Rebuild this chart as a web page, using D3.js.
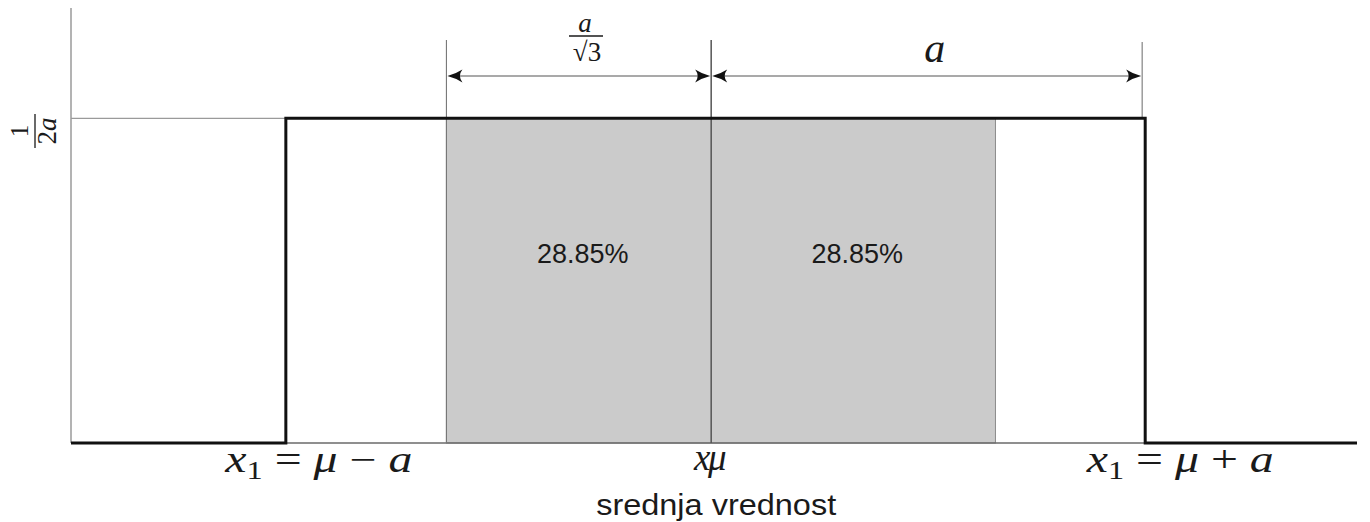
<!DOCTYPE html>
<html>
<head>
<meta charset="utf-8">
<script src="https://cdn.jsdelivr.net/npm/d3@7"></script>
<style>
  html, body { margin: 0; padding: 0; background: #fff; }
  svg { display: block; }
</style>
</head>
<body>
<svg id="chart" width="1370" height="522"></svg>
<script>
// Uniform distribution on [mu - a, mu + a], positions measured in units of a.
const xDomain = [-1.475, 1.488];          // horizontal axis extent
const yDomain = [0, 0.67];                // vertical axis extent (density)
const supportBounds = [-0.98, 1.0];       // mu - a, mu + a
const densityLevel = 0.5;                 // 1 / (2a) with a = 1
const meanValue = 0;                      // mu
const shadedBounds = [-0.61, 0.655];      // mu +/- a / sqrt(3)
const shadedPercents = [28.85, 28.85];    // probability of each shaded half
const dimensionMarks = [-0.61, 0, 0.993]; // dimension line anchor points
const dimensionLabels = ["a/√3", "a"];

const svg = d3.select("#chart");
const x = d3.scaleLinear().domain(xDomain).range([71, 1357]);
const y = d3.scaleLinear().domain(yDomain).range([443, 8]);

const mathFont = "'Liberation Serif', 'DejaVu Serif', serif";
const sansFont = "'Liberation Sans', Arial, sans-serif";
const ink = "#1a1a1a";

// Shaded region within one standard deviation
svg.append("rect")
  .attr("x", x(shadedBounds[0]))
  .attr("y", y(densityLevel))
  .attr("width", x(shadedBounds[1]) - x(shadedBounds[0]))
  .attr("height", y(0) - y(densityLevel))
  .attr("fill", "#cbcbcb")
  .attr("stroke", "#8a8a8a")
  .attr("stroke-width", 1);

// Vertical axis
svg.append("line")
  .attr("x1", x(xDomain[0])).attr("x2", x(xDomain[0]))
  .attr("y1", y(yDomain[1])).attr("y2", y(0))
  .attr("stroke", "#9a9a9a").attr("stroke-width", 1.5);

// Reference line for the density level
svg.append("line")
  .attr("x1", x(xDomain[0])).attr("x2", x(supportBounds[0]))
  .attr("y1", y(densityLevel)).attr("y2", y(densityLevel))
  .attr("stroke", "#9a9a9a").attr("stroke-width", 1.2);

// Horizontal axis (thin part under the support)
svg.append("line")
  .attr("x1", x(supportBounds[0])).attr("x2", x(supportBounds[1]))
  .attr("y1", y(0)).attr("y2", y(0))
  .attr("stroke", "#6a6a6a").attr("stroke-width", 1.5);

// Vertical guide lines for the dimension arrows
const guideTops = [40, 40, 42];
dimensionMarks.forEach((m, i) => {
  svg.append("line")
    .attr("x1", x(m)).attr("x2", x(m))
    .attr("y1", guideTops[i])
    .attr("y2", i === 2 ? y(densityLevel) : y(0))
    .attr("stroke", i === 1 ? "#555" : "#777")
    .attr("stroke-width", i === 1 ? 1.5 : 1.1);
});

// Density function as a step line
const stepPts = [
  [xDomain[0], 0], [supportBounds[0], 0], [supportBounds[0], densityLevel],
  [supportBounds[1], densityLevel], [supportBounds[1], 0], [xDomain[1], 0]
];
svg.append("path")
  .attr("d", d3.line().x(d => x(d[0])).y(d => y(d[1]))(stepPts))
  .attr("fill", "none")
  .attr("stroke", "#111")
  .attr("stroke-width", 3)
  .attr("stroke-linejoin", "miter");

// Dimension arrows
const arrowY = 76;
function arrowHead(px, dir) {
  // stealth-like head pointing in direction dir (+1 right, -1 left)
  const L = 15, W = 6.5, N = 10;
  const p = d3.path();
  p.moveTo(px, arrowY);
  p.quadraticCurveTo(px - dir * 8, arrowY - 2, px - dir * L, arrowY - W);
  p.quadraticCurveTo(px - dir * N, arrowY, px - dir * L, arrowY + W);
  p.quadraticCurveTo(px - dir * 8, arrowY + 2, px, arrowY);
  p.closePath();
  svg.append("path").attr("d", p.toString()).attr("fill", "#111");
}
for (let i = 0; i < 2; i++) {
  const xa = x(dimensionMarks[i]) + 1, xb = x(dimensionMarks[i + 1]) - 1;
  svg.append("line")
    .attr("x1", xa + 8).attr("x2", xb - 8)
    .attr("y1", arrowY).attr("y2", arrowY)
    .attr("stroke", "#555").attr("stroke-width", 1.2);
  arrowHead(xa, -1);
  arrowHead(xb, 1);
}

// Label a / sqrt(3)
const fracX = 586;
svg.append("text")
  .attr("x", fracX - 1).attr("y", 32)
  .attr("text-anchor", "middle")
  .attr("font-family", mathFont).attr("font-style", "italic")
  .attr("font-size", 27).attr("fill", ink)
  .text(dimensionLabels[0].split("/")[0]);
svg.append("line")
  .attr("x1", fracX - 17).attr("x2", fracX + 17)
  .attr("y1", 36).attr("y2", 36)
  .attr("stroke", ink).attr("stroke-width", 1.3);
svg.append("text")
  .attr("x", fracX + 1).attr("y", 61)
  .attr("text-anchor", "middle")
  .attr("font-family", mathFont)
  .attr("font-size", 27).attr("fill", ink)
  .text(dimensionLabels[0].split("/")[1]);

// Label a
svg.append("text")
  .attr("x", (x(dimensionMarks[1]) + x(dimensionMarks[2])) / 2 + 8).attr("y", 62)
  .attr("text-anchor", "middle")
  .attr("font-family", mathFont).attr("font-style", "italic")
  .attr("font-size", 42).attr("fill", ink)
  .text(dimensionLabels[1]);

// Density level label 1/(2a), rotated
const yl = svg.append("g").attr("transform", "translate(39,131) rotate(-90)");
yl.append("text")
  .attr("x", 0).attr("y", -11)
  .attr("text-anchor", "middle")
  .attr("font-family", mathFont).attr("font-size", 25).attr("fill", ink)
  .text("1");
yl.append("line")
  .attr("x1", -17).attr("x2", 17).attr("y1", -4).attr("y2", -4)
  .attr("stroke", ink).attr("stroke-width", 1.3);
const den = yl.append("text")
  .attr("x", 0).attr("y", 17)
  .attr("text-anchor", "middle")
  .attr("font-family", mathFont).attr("font-size", 27).attr("fill", ink);
den.append("tspan").text("2");
den.append("tspan").attr("font-style", "italic").text("a");

// Percent labels in each shaded half
const halfCenters = [
  (x(shadedBounds[0]) + x(meanValue)) / 2,
  (x(meanValue) + x(shadedBounds[1])) / 2
];
shadedPercents.forEach((p, i) => {
  svg.append("text")
    .attr("x", halfCenters[i] + 4).attr("y", 263)
    .attr("text-anchor", "middle")
    .attr("font-family", sansFont).attr("font-size", 27).attr("fill", ink)
    .text(p.toFixed(2) + "%");
});

// Bound labels under the axis
function boundLabel(cx, sign) {
  const t = svg.append("text")
    .attr("x", cx).attr("y", 472)
    .attr("text-anchor", "middle")
    .attr("font-family", mathFont).attr("font-size", 37).attr("fill", ink)
    .attr("textLength", 187).attr("lengthAdjust", "spacingAndGlyphs");
  t.append("tspan").attr("font-style", "italic").text("x");
  t.append("tspan").attr("font-size", 25).attr("dy", 7).text("1");
  t.append("tspan").attr("dy", -7).text(" = ");
  t.append("tspan").attr("font-style", "italic").text("μ");
  t.append("tspan").text(" " + sign + " ");
  t.append("tspan").attr("font-style", "italic").text("a");
}
boundLabel(x(supportBounds[0]) + 33, "−");
boundLabel(x(supportBounds[1]) + 35, "+");

// Overlapping mean labels
svg.append("text")
  .attr("x", x(meanValue) - 9).attr("y", 470)
  .attr("text-anchor", "middle")
  .attr("font-family", mathFont).attr("font-style", "italic")
  .attr("font-size", 37).attr("fill", ink)
  .text("x");
svg.append("text")
  .attr("x", x(meanValue) + 6).attr("y", 470)
  .attr("text-anchor", "middle")
  .attr("font-family", mathFont).attr("font-style", "italic")
  .attr("font-size", 37).attr("fill", ink)
  .text("μ");

// Axis title
svg.append("text")
  .attr("x", x(meanValue) + 5).attr("y", 515)
  .attr("text-anchor", "middle")
  .attr("font-family", sansFont).attr("font-size", 30).attr("fill", ink)
  .attr("textLength", 240).attr("lengthAdjust", "spacingAndGlyphs")
  .text("srednja vrednost");
</script>
</body>
</html>
